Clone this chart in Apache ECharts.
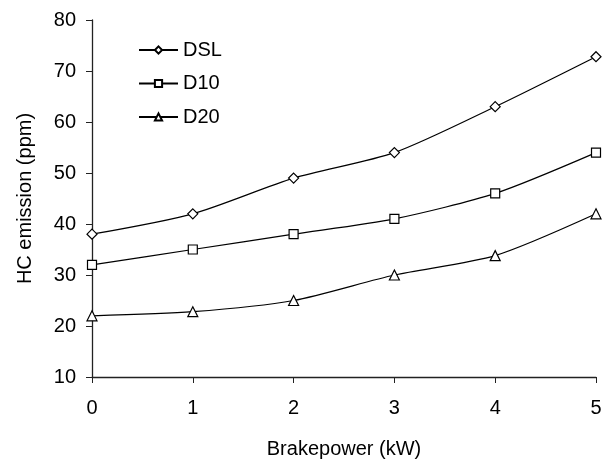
<!DOCTYPE html>
<html>
<head>
<meta charset="utf-8">
<script src="https://cdn.jsdelivr.net/npm/echarts@6/dist/echarts.min.js"></script>
<style>
  html, body { margin: 0; padding: 0; background: #fff; }
  #chart { width: 609px; height: 460px; }
</style>
</head>
<body>
<div id="chart"></div>
<script>
const brakePower = [0, 1, 2, 3, 4, 5]
const dsl = [38, 42, 49, 54, 63, 72.8]
const d10 = [32, 35, 38, 41, 46, 54]
const d20 = [22, 22.8, 25, 30, 33.8, 42]

const font = 'Liberation Sans, Arial, sans-serif'
const ink = '#000'

const pairs = ys => brakePower.map((x, i) => [x, ys[i]])

function lineSeries(name, data, symbol, size) {
  return {
    name,
    type: 'line',
    data: pairs(data),
    smooth: 0.25,
    symbol,
    symbolSize: size,
    lineStyle: { color: ink, width: 1.2 },
    itemStyle: { color: '#fff', borderColor: ink, borderWidth: 1.2 },
  }
}

const chart = echarts.init(document.getElementById('chart'))
chart.setOption({
  animation: false,
  grid: { left: 92, right: 13, top: 20, bottom: 83, outerBoundsMode: 'none' },
  legend: {
    orient: 'vertical',
    left: 133,
    top: 35,
    itemWidth: 39,
    itemHeight: 9,
    itemGap: 13.5,
    textStyle: { fontFamily: font, fontSize: 20, color: ink },
    data: ['DSL', 'D10', 'D20'],
  },
  xAxis: {
    type: 'value',
    min: 0,
    max: 5,
    interval: 1,
    name: 'Brakepower (kW)',
    nameLocation: 'middle',
    nameGap: 62,
    nameTextStyle: { fontFamily: font, fontSize: 20, color: ink },
    axisLine: { lineStyle: { color: '#222', width: 1.3 } },
    axisTick: { show: true, length: 6, lineStyle: { color: '#222' } },
    axisLabel: { fontFamily: font, fontSize: 20, color: ink, margin: 21 },
    splitLine: { show: false },
  },
  yAxis: {
    type: 'value',
    min: 10,
    max: 80,
    interval: 10,
    name: 'HC emission (ppm)',
    nameLocation: 'middle',
    nameGap: 57,
    nameTextStyle: { fontFamily: font, fontSize: 20, color: ink },
    axisLine: { show: true, lineStyle: { color: '#222', width: 1.3 } },
    axisTick: { show: true, length: 6, lineStyle: { color: '#222' } },
    axisLabel: { fontFamily: font, fontSize: 20, color: ink, margin: 16 },
    splitLine: { show: false },
  },
  series: [
    lineSeries('DSL', dsl, 'diamond', 10),
    lineSeries('D10', d10, 'rect', 9),
    lineSeries('D20', d20, 'triangle', 10),
  ],
})
</script>
</body>
</html>
